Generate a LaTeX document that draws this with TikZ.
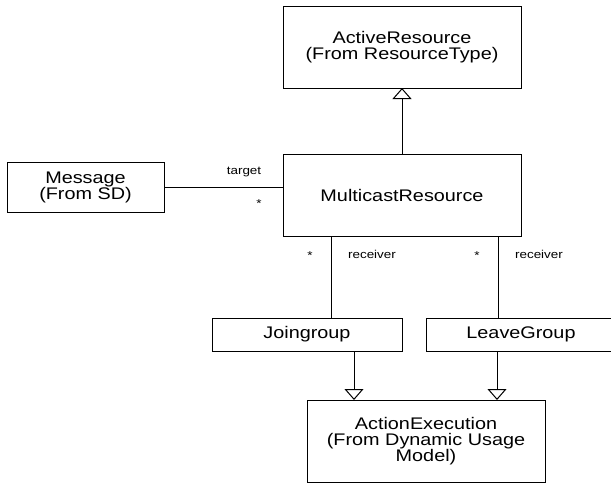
\documentclass[tikz,border=0pt]{standalone}
\usepackage{fontspec}
\setmainfont{Liberation Sans}[FakeStretch=1.18]
\usetikzlibrary{arrows.meta}
\begin{document}
\begin{tikzpicture}[x=1pt,y=-1pt,
  classbox/.style={draw=black, line width=1pt, inner sep=0pt, outer sep=0pt,
    align=center, font=\fontsize{16.8}{16}\selectfont},
  rolelabel/.style={inner sep=0pt, anchor=base, font=\fontsize{11.4}{13}\selectfont},
  assoc/.style={draw=black, line width=1pt},
  inherit/.style={draw=black, line width=1pt,
    -{Triangle[open, length=11pt, width=19pt, line width=1pt]}}]
\useasboundingbox (0,0) rectangle (611,483);

% classes
\node[classbox, minimum width=238pt, minimum height=82pt] (ar) at (402,47)
  {ActiveResource\\(From ResourceType)};
\node[classbox, minimum width=238pt, minimum height=82pt] (mc) at (402,195)
  {MulticastResource};
\node[classbox, minimum width=157pt, minimum height=50pt] (msg) at (85.5,187)
  {Message\\(From SD)};
\node[classbox, minimum width=190pt, minimum height=33pt] (jg) at (307,334.5)
  {Joingroup};
\node[classbox, minimum width=190pt, minimum height=33pt] (lg) at (521,334.5)
  {LeaveGroup};
\node[classbox, minimum width=238pt, minimum height=82pt] (ae) at (426,441)
  {ActionExecution\\(From Dynamic Usage\\Model)};

% generalisation
\draw[inherit] (mc.north) -- (ar.south);
\draw[inherit] ([xshift=47pt]jg.south) -- ([xshift=47pt]jg.south |- ae.north);
\draw[inherit] ([xshift=-24pt]lg.south) -- ([xshift=-24pt]lg.south |- ae.north);

% associations
\draw[assoc] (msg.east) -- (msg.east -| mc.west);
\draw[assoc] ([xshift=24pt]jg.north) -- ([xshift=24pt]jg.north |- mc.south);
\draw[assoc] ([xshift=-23pt]lg.north) -- ([xshift=-23pt]lg.north |- mc.south);

% role names and multiplicities
\node[rolelabel] (tgt) at (244,174) {target};
\node[rolelabel] (tgtm) at (259,207) {*};
\node[rolelabel] (rc1) at (372,258) {receiver};
\node[rolelabel] (rc1m) at (310,259) {*};
\node[rolelabel] (rc2) at (539,258) {receiver};
\node[rolelabel] (rc2m) at (477,259) {*};
\end{tikzpicture}
\end{document}
